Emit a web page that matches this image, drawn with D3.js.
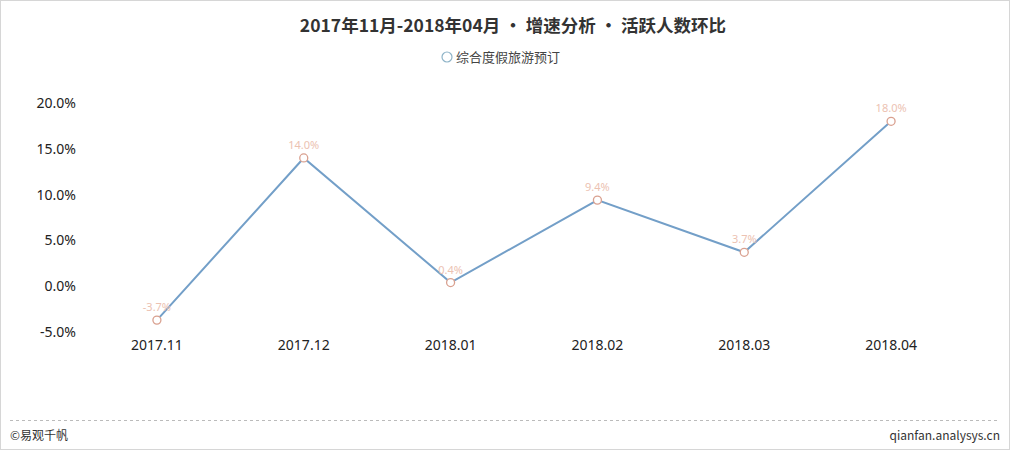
<!DOCTYPE html>
<html><head><meta charset="utf-8">
<script src="https://cdn.jsdelivr.net/npm/d3@7"></script>
<style>body{margin:0;background:#fff;}svg{display:block;font-family:"Noto Sans CJK SC","Microsoft YaHei",sans-serif;}</style>
</head><body>
<svg id="c" width="1010" height="450"></svg>
<script>
const categories = ["2017.11","2017.12","2018.01","2018.02","2018.03","2018.04"];
const values = [-3.7, 14.0, 0.4, 9.4, 3.7, 18.0];
const yTicks = [-5, 0, 5, 10, 15, 20];
const seriesName = "综合度假旅游预订";
const titleText = "2017年11月-2018年04月 • 增速分析 • 活跃人数环比";

const svg = d3.select("#c");
svg.append("rect").attr("x",0.5).attr("y",0.5).attr("width",1009).attr("height",449)
  .attr("fill","#fff").attr("stroke","#d6d6d6");

const x = d3.scaleBand().domain(categories).range([83.5, 964.5]);
const y = d3.scaleLinear().domain([-5, 20]).range([332, 103]);

svg.append("text").attr("x",513).attr("y",32).attr("text-anchor","middle")
  .attr("font-size",17.5).attr("font-weight","bold").attr("fill","#333").text(titleText);

svg.append("circle").attr("cx",447).attr("cy",57).attr("r",5)
  .attr("fill","#fff").attr("stroke","#8fb4c8").attr("stroke-width",1.2);
svg.append("text").attr("x",456).attr("y",62).attr("font-size",13).attr("fill","#444").text(seriesName);

const yAxis = d3.axisLeft(y).tickValues(yTicks).tickFormat(d => d.toFixed(1) + "%").tickSize(0).tickPadding(0);
const gy = svg.append("g").attr("transform","translate(76,0)").call(yAxis);
gy.select(".domain").remove();
gy.selectAll("text").attr("font-size",14).attr("fill","#222").attr("font-family","'Noto Sans','DejaVu Sans',sans-serif");

const xAxis = d3.axisBottom(x).tickSize(0).tickPadding(0);
const gx = svg.append("g").attr("transform","translate(0,340)").call(xAxis);
gx.select(".domain").remove();
gx.selectAll("text").attr("font-size",14).attr("fill","#222").attr("dy","0.71em").attr("font-family","'Noto Sans','DejaVu Sans',sans-serif");

const cx = d => x(d) + x.bandwidth()/2;
const line = d3.line().x((d,i) => cx(categories[i])).y(d => y(d));
svg.append("path").datum(values).attr("d", line).attr("fill","none")
  .attr("stroke","#739fc8").attr("stroke-width",2);

svg.selectAll(".pt").data(values).join("circle")
  .attr("cx",(d,i)=>cx(categories[i])).attr("cy",d=>y(d)).attr("r",4)
  .attr("fill","#fff").attr("stroke","#d9a08f").attr("stroke-width",1.3);

svg.selectAll(".lb").data(values).join("text")
  .attr("x",(d,i)=>cx(categories[i])).attr("y",d=>y(d)-9)
  .attr("text-anchor","middle").attr("font-size",11).attr("fill","#ecc2b2")
  .attr("font-family","'Noto Sans','DejaVu Sans',sans-serif")
  .text(d=>d.toFixed(1)+"%");

svg.append("line").attr("x1",10).attr("x2",1000).attr("y1",420.5).attr("y2",420.5)
  .attr("stroke","#bbb").attr("stroke-dasharray","3,3");
svg.append("text").attr("x",10).attr("y",440).attr("font-size",12).attr("fill","#333").text("©易观千帆");
svg.append("text").attr("x",1000).attr("y",440).attr("text-anchor","end").attr("font-size",12).attr("fill","#333").text("qianfan.analysys.cn");
</script>
</body></html>
